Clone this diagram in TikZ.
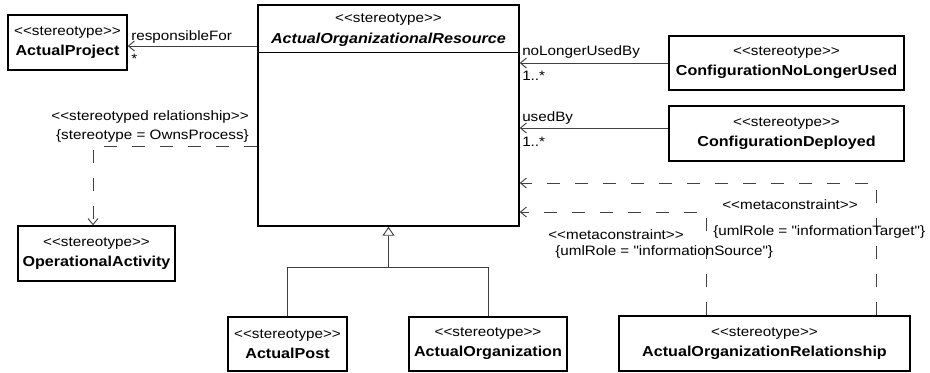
\documentclass[tikz,border=0pt]{standalone}
\usepackage{fontspec}
\newfontfamily\umlfont{Liberation Sans}[FakeStretch=1.12]
\usetikzlibrary{positioning,calc,arrows.meta}
\tikzset{
  cls/.style     = {draw=black, line width=1.1pt, fill=white, align=center, inner sep=0pt, font=\umlfont\fontsize{10.2}{15}\selectfont},
  hdr/.style     = {align=center, inner sep=0pt, font=\umlfont\fontsize{10.2}{16}\selectfont},
  divider/.style = {draw=black, line width=1.1pt},
  link/.style    = {draw=black!75, line width=0.7pt},
  assoc/.style   = {link, -{Straight Barb[length=4.5pt,width=7.5pt]}},
  depend/.style  = {assoc, dash pattern=on 10pt off 11pt},
  gen/.style     = {link, -{Triangle[open,length=6.75pt,width=9pt,fill=white]}},
  lbl/.style     = {font=\umlfont\fontsize{10.2}{12}\selectfont, inner sep=0pt},
}
\newcommand{\stereo}{<<stereotype>>}
\newcommand{\namefont}{\fontsize{10.8}{15}\selectfont\bfseries}
\newcommand{\umlname}[1]{\stereo\\{\namefont #1}}

\begin{document}
\begin{tikzpicture}[x=0.75pt,y=-0.75pt]
  \useasboundingbox (0,0) rectangle (930,372);

  % ---- central class ----
  \node[cls, minimum width=195.75pt, minimum height=165.75pt] (res) at (388.5,115.5) {};
  \draw[divider] ($(res.north west)+(0,48)$) -- ($(res.north east)+(0,48)$);
  \node[hdr] (resname) at ($(res.north)+(0,26)$) {\stereo\\{\namefont\itshape ActualOrganizationalResource}};

  % ---- other classes ----
  \node[cls, minimum width=89.25pt, minimum height=41.25pt] (proj) at (67.5,42.5) {\umlname{ActualProject}};
  \node[cls, minimum width=176.25pt, minimum height=40.5pt] (nlu) at (786.5,63) {\umlname{ConfigurationNoLongerUsed}};
  \node[cls, minimum width=176.25pt, minimum height=41.25pt] (dep) at (786.5,133.5) {\umlname{ConfigurationDeployed}};
  \node[cls, minimum width=117.75pt, minimum height=41.25pt] (opact) at (96.5,253.5) {\umlname{OperationalActivity}};
  \node[cls, minimum width=89.25pt, minimum height=40.5pt] (post) at (287.5,344) {\umlname{ActualPost}};
  \node[cls, minimum width=118.5pt, minimum height=40.5pt] (org) at (488,344) {\umlname{ActualOrganization}};
  \node[cls, minimum width=218.25pt, minimum height=41.25pt] (rel) at (764.5,343.5) {\umlname{ActualOrganizationRelationship}};

  % associations
  \draw[assoc] ($(proj.east -| res.west)+(0,3.5)$) -- ($(proj.east)+(0,3.5)$);
  \draw[assoc] (nlu.west) -- (nlu.west -| res.east);
  \draw[assoc] ($(dep.west)+(0,-5.5)$) -- ($(dep.west -| res.east)+(0,-5.5)$);
  \node[lbl, anchor=west] (respfor) at (131,37) {responsibleFor};
  \node[lbl, anchor=west] (respmul) at (131,59) {*};
  \node[lbl, anchor=west] (nlulbl) at (522,52) {noLongerUsedBy};
  \node[lbl, anchor=west] (nlumul) at (522,76) {1..*};
  \node[lbl, anchor=west] (deplbl) at (522,118) {usedBy};
  \node[lbl, anchor=west] (depmul) at (522,142) {1..*};

  % stereotyped relationship
  \draw[depend] ($(res.west)+(0,30.5)$) -| ($(opact.north)+(-3.5,0)$);
  \node[lbl, anchor=east] (strel) at (249,117) {<<stereotyped relationship>>};
  \node[lbl, anchor=east] (sttag) at (249,136) {\{stereotype = OwnsProcess\}};

  % generalization
  \coordinate (split) at ($(res.south)+(0,41)$);
  \draw[gen] (post.north) |- (split) -- (res.south);
  \draw[link] (org.north) |- (split);

  % metaconstraints
  \draw[depend] ($(rel.north)+(111.5,0)$) |- ($(res.east)+(0,67.5)$);
  \draw[depend] ($(rel.north)+(-58.5,0)$) |- ($(res.east)+(0,96.5)$);
  \node[lbl, anchor=west] (mctgt) at (722,205) {<<metaconstraint>>};
  \node[lbl, anchor=west] (mctgtrole) at (713,232) {\{umlRole = "informationTarget"\}};
  \node[lbl, anchor=west] (mcsrc) at (548,235) {<<metaconstraint>>};
  \node[lbl, anchor=west] (mcsrcrole) at (555,252) {\{umlRole = "informationSource"\}};
\end{tikzpicture}
\end{document}
